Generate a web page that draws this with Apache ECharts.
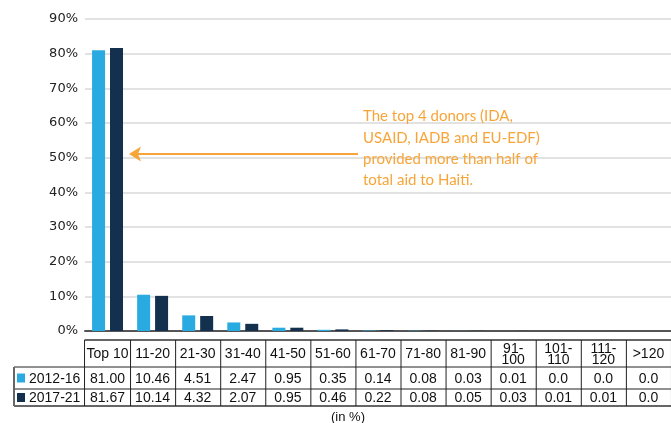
<!DOCTYPE html>
<html>
<head>
<meta charset="utf-8">
<script src="https://cdn.jsdelivr.net/npm/echarts@6/dist/echarts.min.js"></script>
<style>
  html, body { margin: 0; padding: 0; background: #fff; }
  #chart { width: 671px; height: 423px; }
</style>
</head>
<body>
<div id="chart"></div>
<script>
// Donor rank groups and their share of total aid (in %)
const categories = ['Top 10', '11-20', '21-30', '31-40', '41-50', '51-60', '61-70', '71-80', '81-90', '91-100', '101-110', '111-120', '>120'];
const seriesNames = ['2012-16', '2017-21'];
const values2012 = [81.00, 10.46, 4.51, 2.47, 0.95, 0.35, 0.14, 0.08, 0.03, 0.01, 0.0, 0.0, 0.0];
const values2017 = [81.67, 10.14, 4.32, 2.07, 0.95, 0.46, 0.22, 0.08, 0.05, 0.03, 0.01, 0.01, 0.0];
const yTicks = [0, 10, 20, 30, 40, 50, 60, 70, 80, 90];
const noteLines = ['The top 4 donors (IDA,', 'USAID, IADB and EU-EDF)', 'provided more than half of', 'total aid to Haiti.'];
const unitNote = '(in %)';

const LIGHT = '#29abe2';
const DARK = '#14304f';
const ORANGE = '#f7a539';
const TABLE_FONT = '"Liberation Sans", Arial, sans-serif';

const chart = echarts.init(document.getElementById('chart'), null, { renderer: 'canvas' });

const GRID_LEFT = 85, GRID_TOP = 19, BAND = 46;
const GRID_WIDTH = BAND * categories.length;

chart.setOption({
  animation: false,
  grid: { left: GRID_LEFT, top: GRID_TOP, width: GRID_WIDTH, height: 312, containLabel: false },
  xAxis: {
    type: 'category',
    data: categories,
    axisLine: { show: true, lineStyle: { color: '#555', width: 2 } },
    axisTick: { show: false },
    axisLabel: { show: false }
  },
  yAxis: {
    type: 'value',
    min: yTicks[0],
    max: yTicks[yTicks.length - 1],
    interval: 10,
    axisLine: { show: false },
    axisTick: { show: false },
    axisLabel: {
      formatter: '{value}%',
      color: '#222',
      fontFamily: '"DejaVu Sans", sans-serif',
      fontSize: 13,
      margin: 7
    },
    splitLine: { lineStyle: { color: '#d9d9d9', width: 1.5 } }
  },
  series: [
    { name: seriesNames[0], type: 'bar', data: values2012, barWidth: 13, barGap: '38%', itemStyle: { color: LIGHT } },
    { name: seriesNames[1], type: 'bar', data: values2017, barWidth: 13, barGap: '38%', itemStyle: { color: DARK } }
  ]
});

// Data table under the plot, columns aligned to the category axis
function fmt(v) { return v === 0 ? '0.0' : v.toFixed(2); }
function headerText(c) { return c.length > 5 && c.indexOf('-') > 0 ? c.replace('-', '-\n') : c; }

const rowY = [340, 367, 389, 406];
const legendLeft = 14;
const g = [];
const centers = categories.map(c => chart.convertToPixel({ xAxisIndex: 0 }, c));
const tableLeft = centers[0] - BAND / 2;
const tableRight = centers[centers.length - 1] + BAND / 2;

function line(x1, y1, x2, y2, color, w) {
  g.push({ type: 'line', silent: true, z: 10,
    shape: { x1: x1, y1: y1, x2: x2, y2: y2 },
    style: { stroke: color, lineWidth: w } });
}
function text(x, y, s, opts) {
  g.push({ type: 'text', silent: true, z: 11, x: x, y: y,
    style: Object.assign({ text: s, fill: '#111', font: '14px ' + TABLE_FONT, align: 'center', verticalAlign: 'middle' }, opts || {}) });
}

// horizontal rules
line(tableLeft, rowY[0], tableRight, rowY[0], '#666', 2);
line(legendLeft, rowY[1], tableRight, rowY[1], '#222', 1);
line(legendLeft, rowY[2], tableRight, rowY[2], '#222', 1);
line(legendLeft, rowY[3], tableRight, rowY[3], '#666', 2);
// vertical rules
line(legendLeft, rowY[1], legendLeft, rowY[3], '#666', 2);
line(tableLeft, rowY[0], tableLeft, rowY[3], '#222', 1);
centers.forEach(cx => line(cx + BAND / 2, rowY[0], cx + BAND / 2, rowY[3], '#222', 1));

// header and cells
centers.forEach((cx, i) => {
  const h = headerText(categories[i]);
  if (h.indexOf('\n') >= 0) {
    text(cx, (rowY[0] + rowY[1]) / 2 + 1, h, { lineHeight: 11 });
  } else {
    text(cx, (rowY[0] + rowY[1]) / 2 + 1, h);
  }
  text(cx, (rowY[1] + rowY[2]) / 2 + 1, fmt(values2012[i]));
  text(cx, (rowY[2] + rowY[3]) / 2 + 1, fmt(values2017[i]));
});

// legend keys inside the table
[[LIGHT, values2012], [DARK, values2017]].forEach((k, r) => {
  const cy = (rowY[r + 1] + rowY[r + 2]) / 2;
  g.push({ type: 'rect', silent: true, z: 11, shape: { x: 17, y: cy - 4.5, width: 8, height: 9 }, style: { fill: k[0] } });
  text(29, cy + 1, seriesNames[r], { align: 'left' });
});

text(348, 417, unitNote, { font: '13px ' + TABLE_FONT });

// callout about the top donors
noteLines.forEach((s, i) => {
  g.push({ type: 'text', silent: true, z: 12, x: 363, y: 116.5 + i * 21.3,
    style: { text: s, fill: ORANGE, font: '15px Lato, "Open Sans", sans-serif', align: 'left', verticalAlign: 'middle' } });
});
line(358, 154, 138, 154, ORANGE, 2);
g.push({ type: 'polygon', silent: true, z: 12,
  shape: { points: [[129, 154], [141, 146.5], [138, 154], [141, 161.5]] },
  style: { fill: ORANGE } });

chart.setOption({ graphic: g });
</script>
</body>
</html>
